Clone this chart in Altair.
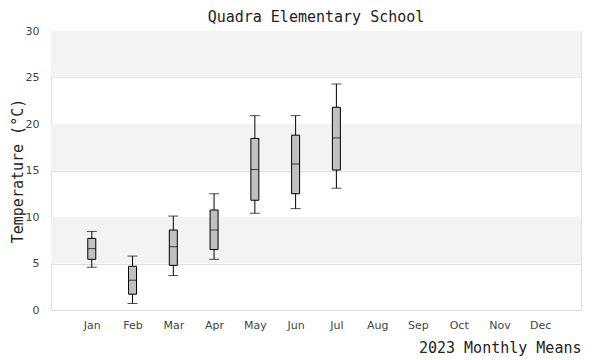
import altair as alt
import pandas as pd

months = ["Jan", "Feb", "Mar", "Apr", "May", "Jun", "Jul", "Aug", "Sep", "Oct", "Nov", "Dec"]
box_months = ["Jan", "Feb", "Mar", "Apr", "May", "Jun", "Jul"]
whisker_low = [4.6, 0.7, 3.7, 5.45, 10.4, 10.9, 13.1]
q1 = [5.45, 1.7, 4.8, 6.5, 11.8, 12.5, 15.05]
median = [6.6, 3.2, 6.8, 8.6, 15.1, 15.7, 18.5]
q3 = [7.7, 4.7, 8.6, 10.75, 18.45, 18.8, 21.8]
whisker_high = [8.45, 5.8, 10.1, 12.5, 20.9, 20.9, 24.3]

band_low = [5, 15, 25]
band_high = [10, 20, 30]

df = pd.DataFrame({
    "month": box_months, "lo": whisker_low, "q1": q1,
    "med": median, "q3": q3, "hi": whisker_high,
})
bands = pd.DataFrame({"y0": band_low, "y1": band_high})

MONO = "DejaVu Sans Mono"
SANS = "DejaVu Sans"

xscale = alt.Scale(type="point", domain=months, padding=1)
yscale = alt.Scale(domain=[0, 30])

x_enc = alt.X("month:N", scale=xscale, sort=months,
              axis=alt.Axis(title="2023 Monthly Means", labelAngle=0, ticks=False,
                            domain=False, grid=False, labelFont=SANS, labelFontSize=11,
                            labelColor="#444", labelPadding=9,
                            titleFont=MONO, titleFontSize=15, titleFontWeight="normal",
                            titleColor="#222", titleAnchor="end", titlePadding=10))

stripes = alt.Chart(bands).mark_rect(color="#f3f3f3").encode(
    x=alt.value(0), x2=alt.value("width"),
    y=alt.Y("y0:Q", scale=yscale,
            axis=alt.Axis(title="Temperature (°C)", values=[0, 5, 10, 15, 20, 25, 30],
                          ticks=False, domain=False, gridColor="#dddddd",
                          labelFont=SANS, labelFontSize=11, labelColor="#444",
                          labelPadding=12, titleFont=MONO, titleFontSize=15,
                          titleFontWeight="normal", titleColor="#222", titlePadding=0)),
    y2="y1:Q",
)

base = alt.Chart(df)
whisk = base.mark_rule(color="black", strokeWidth=1).encode(
    x=x_enc, y=alt.Y("lo:Q", scale=yscale), y2="hi:Q")
caps_lo = base.mark_tick(color="black", size=10, thickness=1, orient="horizontal").encode(
    x=x_enc, y=alt.Y("lo:Q", scale=yscale))
caps_hi = base.mark_tick(color="black", size=10, thickness=1, orient="horizontal").encode(
    x=x_enc, y=alt.Y("hi:Q", scale=yscale))
box = base.mark_bar(size=8, color="#c0c0c0", stroke="black", strokeWidth=1).encode(
    x=x_enc, y=alt.Y("q1:Q", scale=yscale), y2="q3:Q")
med = base.mark_tick(color="black", size=8, thickness=1, orient="horizontal").encode(
    x=x_enc, y=alt.Y("med:Q", scale=yscale))

chart = alt.layer(stripes, whisk, caps_lo, caps_hi, box, med).properties(
    width=530, height=279,
    title=alt.TitleParams("Quadra Elementary School", font=MONO, fontSize=15,
                          fontWeight="normal", color="#222", anchor="middle",
                          frame="group", offset=-1, dy=-1),
    padding={"left": 2, "top": 2, "right": 5, "bottom": 5},
).configure_view(stroke="#dddddd").configure_axis(gridColor="#dddddd")

chart.save("out.html", embed_options={"renderer": "svg", "actions": False})
